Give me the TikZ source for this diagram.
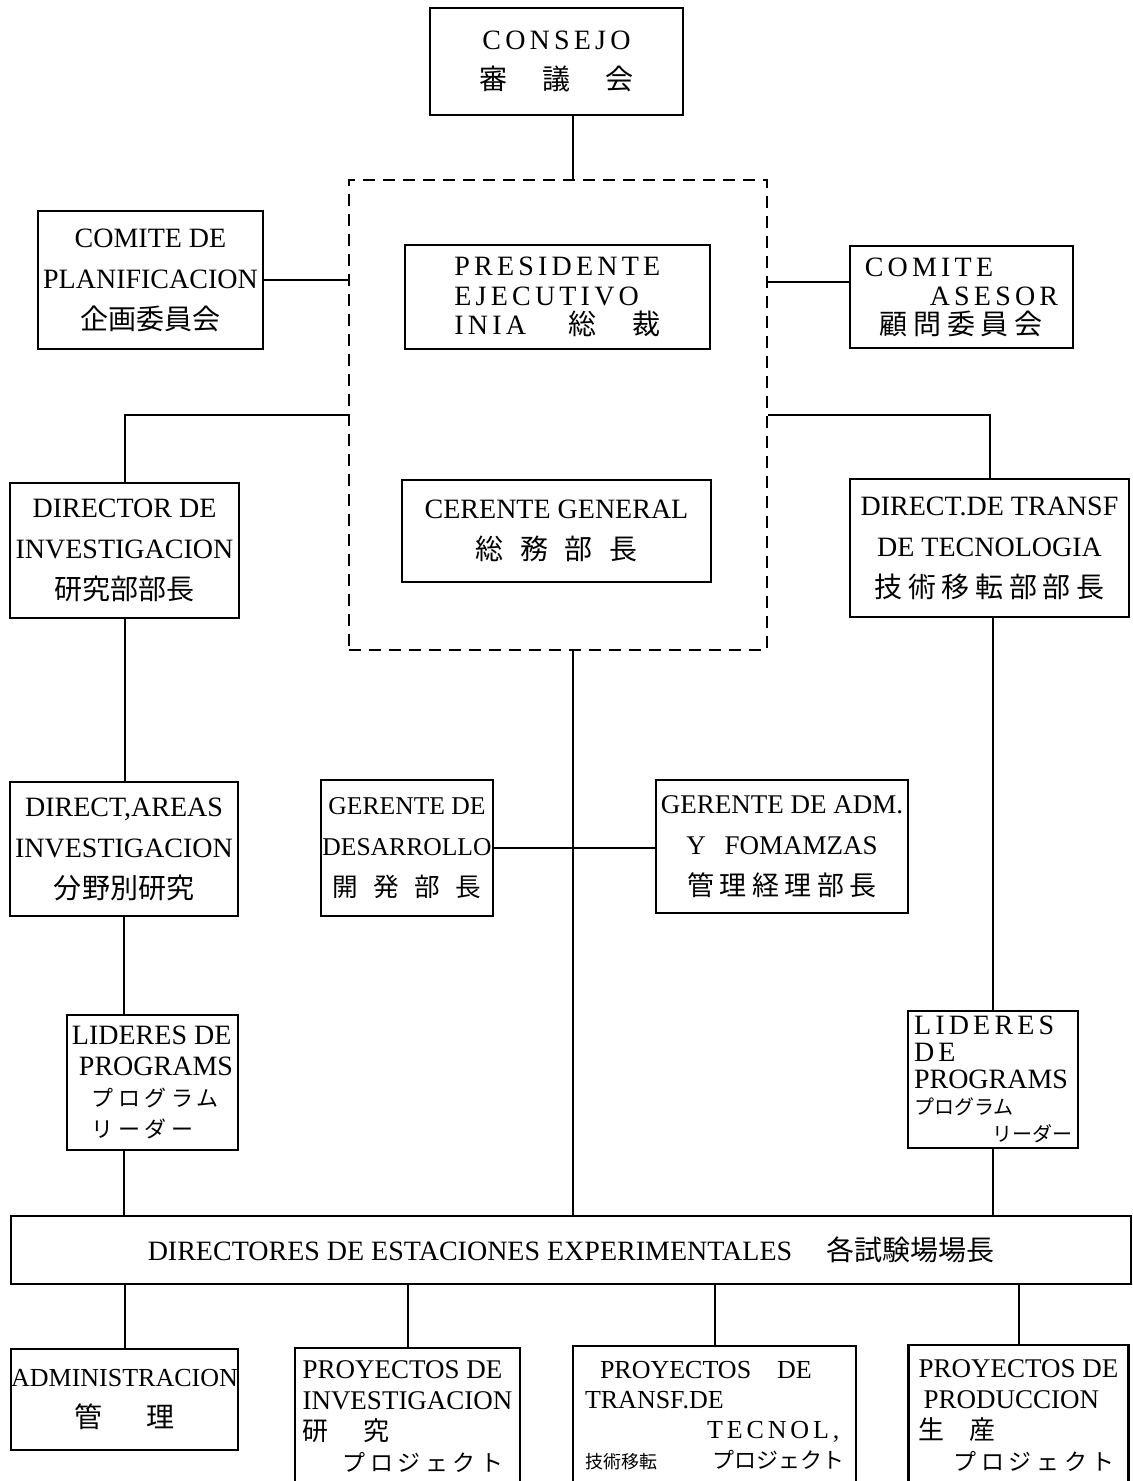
\documentclass[tikz,border=0pt]{standalone}
\usepackage{fontspec}
\setmainfont{Liberation Serif}
\newfontfamily\spaced[LetterSpace=15]{Liberation Serif}
\newfontfamily\cjk{Noto Sans CJK JP}
\newfontfamily\cjkw[LetterSpace=20]{Noto Sans CJK JP}
\newcommand{\fs}[2]{\fontsize{#1}{#2}\selectfont}
\newcommand{\jpsz}[2]{{\cjk\fontsize{#1}{#1}\selectfont#2}}
\newcommand{\jpwsz}[2]{{\cjkw\fontsize{#1}{#1}\selectfont#2}}
\newcommand{\jsp}{\hspace{0.6em}}

\begin{document}
\begin{tikzpicture}[x=0.5pt,y=-0.5pt,
  box/.style={draw,line width=1.1pt,inner sep=0pt,align=center,font=\fs{14}{20.5}},
  link/.style={line width=1pt}]
  \useasboundingbox (0,0) rectangle (1132,1481);
  \coordinate (spine) at (573,0);

  % top part
  \node[box,font={\spaced\fs{14}{20}},minimum width=126.5pt,minimum height=53.5pt] (consejo) at (556.5,61.5)
    {CONSEJO\\\jpsz{14}{審\hspace{1.25em}議\hspace{1.25em}会}};
  \node[draw,dash pattern=on 6pt off 4pt,line width=0.9pt,inner sep=0pt,
    minimum width=209pt,minimum height=235pt] (exec) at (558,415) {};
  \node[box,minimum width=112.5pt,minimum height=69pt] (plan) at (150.5,280)
    {COMITE DE\\PLANIFICACION\\\jpsz{14}{企画委員会}};
  \node[box,align=left,font={\spaced\fs{14}{14.75}},minimum width=152.5pt,minimum height=52pt] (pres) at (557.5,297)
    {PRESIDENTE\\EJECUTIVO\\INIA\hspace{1.5em}\jpsz{14}{総\hspace{1.3em}裁}};
  \node[box,align=left,font={\spaced\fs{14}{14.5}},minimum width=111.5pt,minimum height=51pt] (asesor) at (961.5,297)
    {COMITE\\\hspace*{32.5pt}ASESOR\\\hspace*{7.5pt}\jpwsz{14}{顧問委員会}};

  % directors
  \node[box,minimum width=114.5pt,minimum height=67.5pt] (dirinv) at (124.5,550.5)
    {DIRECTOR DE\\INVESTIGACION\\\jpsz{14}{研究部部長}};
  \node[box,minimum width=154.5pt,minimum height=51pt] (gergen) at (556.5,531)
    {CERENTE GENERAL\\\jpsz{14}{総\jsp 務\jsp 部\jsp 長}};
  \node[box,minimum width=139.5pt,minimum height=69pt] (dirtt) at (989.5,548)
    {DIRECT.DE TRANSF\\DE TECNOLOGIA\\\jpwsz{14}{技術移転部部長}};

  % managers
  \node[box,minimum width=114pt,minimum height=67pt] (areas) at (124,849)
    {DIRECT,AREAS\\INVESTIGACION\\\jpsz{14}{分野別研究}};
  \node[box,font=\fs{12.8}{20.5},minimum width=86pt,minimum height=68pt] (desarr) at (407,848)
    {GERENTE DE\\DESARROLLO\\\jpsz{12.8}{開\jsp 発\jsp 部\jsp 長}};
  \node[box,font=\fs{13.5}{20.5},minimum width=126pt,minimum height=66.5pt] (adm) at (782,846.5)
    {GERENTE DE ADM.\\Y\hspace{0.7em}FOMAMZAS\\\jpwsz{13.5}{管理経理部長}};

  % leaders
  \node[box,align=left,font=\fs{14}{15.5},minimum width=85.5pt,minimum height=67.5pt] (lidl) at (152.5,1082.5)
    {LIDERES DE\\\hspace*{3.5pt}PROGRAMS\\\hspace*{10pt}\jpwsz{11}{プログラム}\\\hspace*{10pt}\jpwsz{11}{リーダー}};
  \node[box,align=left,font=\fs{14}{13.4},minimum width=85pt,minimum height=68.5pt] (lidr) at (993,1079.5)
    {{\spaced LIDERES}\\{\spaced DE}\\PROGRAMS\\\jpsz{10}{プログラム}\\\hspace*{39pt}\jpsz{10}{リーダー}};

  % stations
  \node[box,minimum width=560pt,minimum height=34pt] (estac) at (571,1250)
    {DIRECTORES DE ESTACIONES EXPERIMENTALES\hspace{17pt}\jpsz{14}{各試験場場長}};

  % bottom row
  \node[box,font=\fs{13}{20.5},minimum width=113.5pt,minimum height=50.5pt] (admin) at (124.5,1399.5)
    {ADMINISTRACION\\\jpsz{14}{管\hspace{1.6em}理}};
  \node[box,align=left,font=\fs{13.5}{15.5},minimum width=112.5pt,minimum height=68.5pt] (proyinv) at (407.5,1416.5)
    {PROYECTOS DE\\INVESTIGACION\\\jpsz{13}{研\hspace{17.5pt}究}\\\hspace*{20pt}\jpwsz{11.5}{プロジェクト}};
  \node[box,align=left,font=\fs{13}{15},minimum width=141.5pt,minimum height=69.5pt] (proytt) at (714.5,1415.5)
    {\hspace*{7.5pt}PROYECTOS\hspace{1em}DE\\TRANSF.DE\\\hspace*{61pt}{\spaced TECNOL,}\\\jpsz{9}{技術移転}\hspace{27.5pt}\jpsz{11}{プロジェクト}};
  \node[box,align=left,font=\fs{13.5}{15.5},minimum width=110pt,minimum height=71pt] (proyprod) at (1018.5,1416)
    {PROYECTOS DE\\\hspace*{2.5pt}PRODUCCION\\\jpsz{13}{生\hspace{12.5pt}産}\\\hspace*{17.5pt}\jpwsz{11.5}{プロジェクト}};

  % connectors
  \draw[link] (spine |- consejo.south) -- (spine |- exec.north);
  \draw[link] (plan.east) -- (plan.east -| exec.west);
  \draw[link] ([yshift=7.5pt]asesor.west) -- ([yshift=7.5pt]asesor.west -| exec.east);
  \draw[link] (exec.west) -| (dirinv.north);
  \draw[link] (exec.east) -| (dirtt.north);
  \draw[link] (dirinv.south) -- (dirinv.south |- areas.north);
  \draw[link] (areas.south) -- (areas.south |- lidl.north);
  \draw[link] (areas.south |- lidl.south) -- (areas.south |- estac.north);
  \draw[link] (spine |- exec.south) -- (spine |- estac.north);
  \draw[link] (desarr.east) -- (desarr.east -| adm.west);
  \draw[link] (lidr.north |- dirtt.south) -- (lidr.north);
  \draw[link] (lidr.south) -- (lidr.south |- estac.north);
  \foreach \n in {admin,proyinv,proytt,proyprod}
    \draw[link] (\n.north |- estac.south) -- (\n.north);
\end{tikzpicture}
\end{document}
